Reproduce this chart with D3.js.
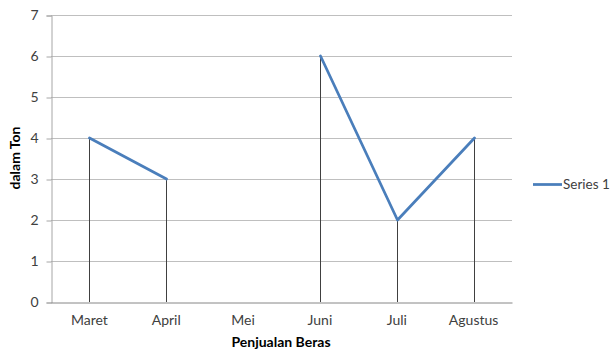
<!DOCTYPE html>
<html>
<head>
<meta charset="utf-8">
<script src="https://cdn.jsdelivr.net/npm/d3@7"></script>
<style>
  body { margin: 0; background: #fff; }
  svg { display: block; font-family: Lato, "Open Sans", sans-serif; }
</style>
</head>
<body>
<svg id="chart" width="612" height="352"></svg>
<script>
// Monthly rice sales (tons); Mei has no recorded value
const categories = ["Maret", "April", "Mei", "Juni", "Juli", "Agustus"];
const series1 = [4, 3, null, 6, 2, 4];
const yTicks = [0, 1, 2, 3, 4, 5, 6, 7];
const seriesName = "Series 1";
const xTitle = "Penjualan Beras";
const yTitle = "dalam Ton";

const svg = d3.select("#chart");
const plotLeft = 51, plotRight = 512, plotTop = 15, plotBottom = 302;
const fs = 14;

const x = d3.scaleBand().domain(categories).range([plotLeft, plotRight]);
const y = d3.scaleLinear().domain([0, 7]).range([plotBottom, plotTop]);
const cx = c => x(c) + x.bandwidth() / 2;

// horizontal gridlines
svg.append("g").selectAll("line").data(yTicks.filter(t => t > 0)).join("line")
  .attr("x1", plotLeft).attr("x2", plotRight)
  .attr("y1", d => y(d) + 0.5).attr("y2", d => y(d) + 0.5)
  .attr("stroke", "#bfbfbf").attr("stroke-width", 1);

// y axis
const yAxis = svg.append("g").attr("transform", `translate(${plotLeft + 0.5},0.5)`)
  .call(d3.axisLeft(y).tickValues(yTicks).tickSize(5).tickPadding(8).tickFormat(d3.format("d")));
yAxis.select(".domain").attr("stroke", "#a6a6a6");
yAxis.selectAll(".tick line").attr("stroke", "#a6a6a6");
yAxis.selectAll(".tick text").attr("font-size", fs).attr("fill", "#404040")
  .attr("font-family", "Lato, 'Open Sans', sans-serif");

// x axis
const xAxis = svg.append("g").attr("transform", `translate(0,${plotBottom + 0.5})`)
  .call(d3.axisBottom(x).tickSize(0).tickPadding(13));
xAxis.select(".domain").attr("stroke", "#868686");
xAxis.selectAll(".tick text").attr("font-size", fs).attr("fill", "#404040")
  .attr("font-family", "Lato, 'Open Sans', sans-serif");

// drop lines from each point to the axis
const pts = categories.map((c, i) => ({ c, v: series1[i] })).filter(d => d.v != null);
svg.append("g").selectAll("line").data(pts).join("line")
  .attr("x1", d => Math.round(cx(d.c)) + 0.5).attr("x2", d => Math.round(cx(d.c)) + 0.5)
  .attr("y1", d => y(d.v)).attr("y2", plotBottom)
  .attr("stroke", "#404040").attr("stroke-width", 1);

// series line (gap at missing month)
const line = d3.line()
  .defined(d => d.v != null)
  .x(d => Math.round(cx(d.c)) + 0.5)
  .y(d => y(d.v));
svg.append("path")
  .datum(categories.map((c, i) => ({ c, v: series1[i] })))
  .attr("d", line)
  .attr("fill", "none").attr("stroke", "#4a7ebb").attr("stroke-width", 2.75)
  .attr("stroke-linejoin", "round").attr("stroke-linecap", "round");

// axis titles
svg.append("text").attr("x", 281).attr("y", 347)
  .attr("text-anchor", "middle").attr("font-size", fs).attr("font-weight", "bold")
  .attr("fill", "#000").text(xTitle);
svg.append("text").attr("transform", `translate(20,158) rotate(-90)`)
  .attr("text-anchor", "middle").attr("font-size", fs).attr("font-weight", "bold")
  .attr("fill", "#000").text(yTitle);

// legend
const lg = svg.append("g").attr("transform", "translate(533,184)");
lg.append("line").attr("x1", 0).attr("x2", 29).attr("y1", 0.5).attr("y2", 0.5)
  .attr("stroke", "#4a7ebb").attr("stroke-width", 2.75);
lg.append("text").attr("x", 30).attr("y", 5).attr("font-size", 13.5).attr("fill", "#404040")
  .text(seriesName);
</script>
</body>
</html>
